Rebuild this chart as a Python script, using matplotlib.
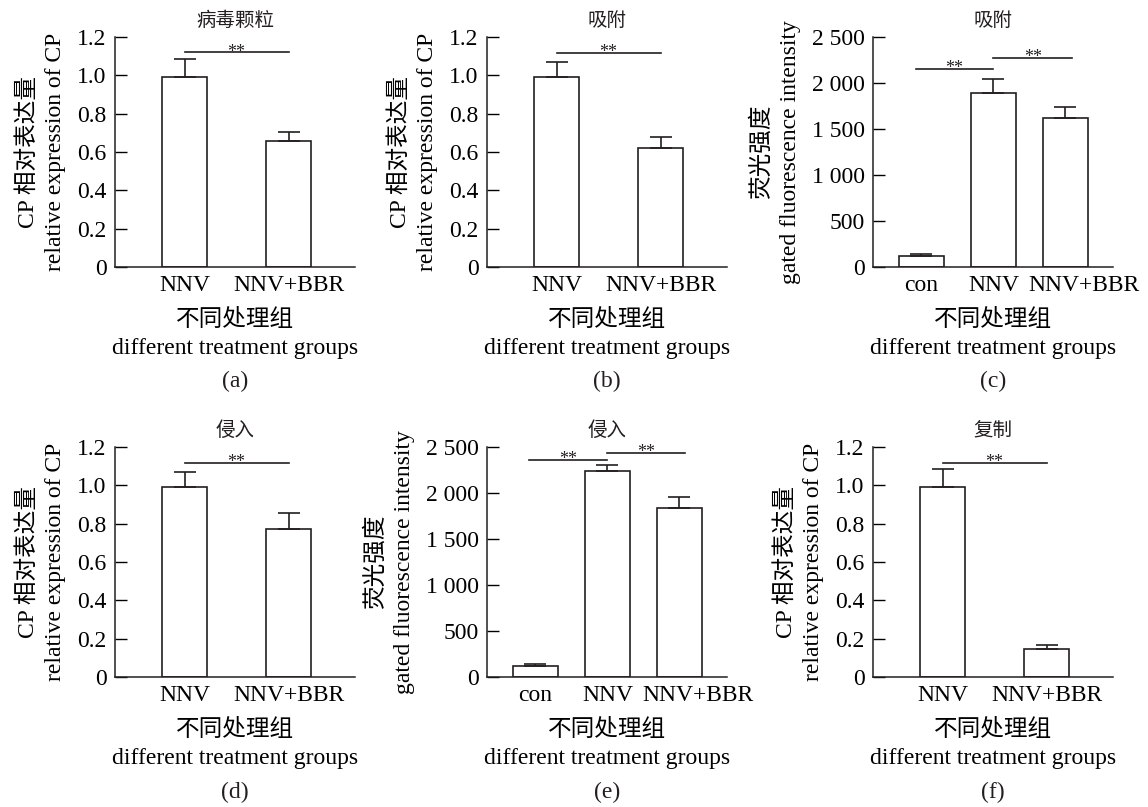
import numpy as np
import matplotlib
matplotlib.use('Agg')
import matplotlib.pyplot as plt

plt.rcParams['font.family'] = ['Liberation Serif', 'Noto Sans CJK SC']
plt.rcParams['text.color'] = '#231f20'
plt.rcParams['axes.edgecolor'] = '#231f20'

# data
groups2 = ['NNV', 'NNV+BBR']
groups3 = ['con', 'NNV', 'NNV+BBR']

a_mean = [0.99, 0.66]
a_err = [0.095, 0.045]
b_mean = [0.99, 0.62]
b_err = [0.08, 0.056]
c_mean = [123, 1895, 1623]
c_err = [18, 152, 116]
d_mean = [0.99, 0.77]
d_err = [0.08, 0.087]
e_mean = [123, 2238, 1841]
e_err = [22, 65, 113]
f_mean = [0.99, 0.146]
f_err = [0.097, 0.021]

titles = ['病毒颗粒', '吸附', '吸附', '侵入', '侵入', '复制']
letters = ['(a)', '(b)', '(c)', '(d)', '(e)', '(f)']

cp_ticks = [0, 0.2, 0.4, 0.6, 0.8, 1.0, 1.2]
cp_ticklabels = ['0', '0.2', '0.4', '0.6', '0.8', '1.0', '1.2']
fl_ticks = [0, 500, 1000, 1500, 2000, 2500]
fl_ticklabels = ['0', '500', '1 000', '1 500', '2 000', '2 500']

cp_label = 'CP 相对表达量\nrelative expression of CP'
fl_label = '荧光强度\ngated fluorescence intensity'
x_label = '不同处理组\ndifferent treatment groups'

# significance brackets: (x0, x1, y)
a_sig = [(0, 1, 1.12)]
b_sig = [(0, 1, 1.116)]
c_sig = [(-0.08, 1, 2152), (1, 2.09, 2272)]
d_sig = [(0, 1, 1.116)]
e_sig = [(-0.09, 1, 2361), (1, 2.08, 2434)]
f_sig = [(0, 1, 1.119)]

panels = [
    (groups2, a_mean, a_err, a_sig, 'cp'),
    (groups2, b_mean, b_err, b_sig, 'cp'),
    (groups3, c_mean, c_err, c_sig, 'fl'),
    (groups2, d_mean, d_err, d_sig, 'cp'),
    (groups3, e_mean, e_err, e_sig, 'fl'),
    (groups2, f_mean, f_err, f_sig, 'cp'),
]

fig = plt.figure(figsize=(11.48, 8.07), dpi=100)
W, H = 1148, 807
lefts = [115, 487, 873]
bottoms = [267, 677]
aw, ah = 240, 230

fs = 17
for i, (grp, mean, err, sig, kind) in enumerate(panels):
    row, col = divmod(i, 3)
    ax = fig.add_axes([lefts[col] / W, 1 - bottoms[row] / H, aw / W, ah / H])
    n = len(grp)
    x = np.arange(n)
    width = 0.437 if n == 2 else 0.625
    ax.bar(x, mean, width, color='white', edgecolor='#231f20', linewidth=1.2,
           yerr=[np.zeros(n), err], capsize=8,
           error_kw=dict(elinewidth=1.2, capthick=1.2, ecolor='#231f20'), zorder=2)
    if n == 2:
        ax.set_xlim(-0.67, 1.64)
        ax.set_xticks(x)
    else:
        ax.set_xlim(-0.67, 2.66)
        # last label sits a little right of its bar in the source figure
        ax.set_xticks(x + np.array([0, 0, 0.26]))
    ax.set_xticklabels(grp, fontsize=fs)
    if kind == 'cp':
        ax.set_ylim(0, 1.2)
        ax.set_yticks(cp_ticks)
        ax.set_yticklabels(cp_ticklabels, fontsize=fs)
        ax.set_ylabel(cp_label, fontsize=fs, linespacing=1.4, labelpad=8)
    else:
        ax.set_ylim(0, 2500)
        ax.set_yticks(fl_ticks)
        ax.set_yticklabels(fl_ticklabels, fontsize=fs)
        ax.set_ylabel(fl_label, fontsize=fs, linespacing=1.4, labelpad=8)
    ax.set_xlabel(x_label, fontsize=fs, linespacing=1.45, labelpad=9)
    ax.set_title(titles[i], fontsize=14, pad=8)
    for s in ['top', 'right']:
        ax.spines[s].set_visible(False)
    for s in ['left', 'bottom']:
        ax.spines[s].set_linewidth(1.1)
    ax.tick_params(axis='y', direction='in', length=8.5, width=1.0, pad=6)
    ax.tick_params(axis='x', length=0, pad=6)
    for x0, x1, y in sig:
        ax.plot([x0, x1], [y, y], color='#231f20', lw=1.2, clip_on=False)
        ax.annotate('**', xy=((x0 + x1) / 2, y), xytext=(0, -3),
                    textcoords='offset points', ha='center', va='baseline',
                    fontsize=13, annotation_clip=False)
    cx = (lefts[col] + aw / 2) / W
    cy = 1 - (381 if row == 0 else 792) / H
    fig.text(cx, cy, letters[i], ha='center', va='center', fontsize=fs)

fig.savefig('out.png', dpi=100)
